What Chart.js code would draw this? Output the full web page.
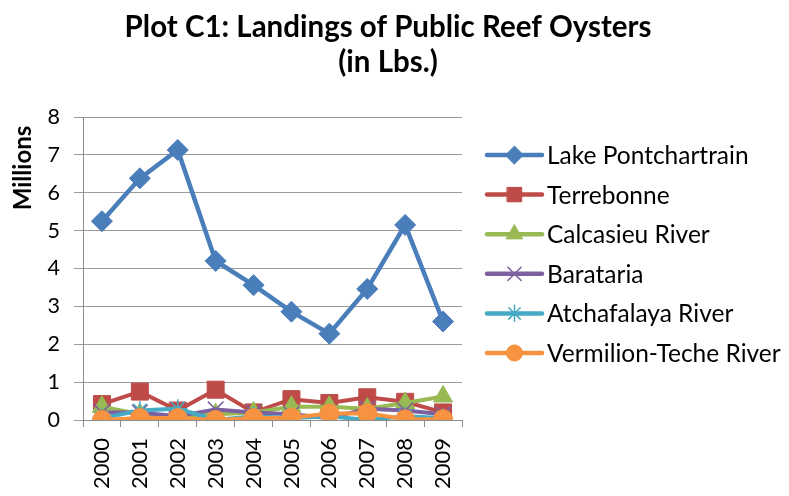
<!DOCTYPE html>
<html>
<head>
<meta charset="utf-8">
<script src="https://cdn.jsdelivr.net/npm/chart.js@4"></script>
<style>
  html, body { margin: 0; padding: 0; background: #fff; }
  #wrap { width: 789px; height: 496px; }
</style>
</head>
<body>
<div id="wrap"><canvas id="c" width="789" height="496"></canvas></div>
<script>
const years = ['2000','2001','2002','2003','2004','2005','2006','2007','2008','2009'];
const lakePontchartrain = [5.25, 6.38, 7.13, 4.2, 3.56, 2.86, 2.28, 3.46, 5.15, 2.6];
const terrebonne       = [0.42, 0.75, 0.25, 0.8, 0.2, 0.55, 0.45, 0.6, 0.48, 0.2];
const calcasieuRiver   = [0.35, 0.15, 0.1, 0.15, 0.2, 0.35, 0.35, 0.3, 0.45, 0.62];
const barataria        = [0.2, 0.2, 0.1, 0.28, 0.2, 0.15, 0.05, 0.3, 0.25, 0.15];
const atchafalayaRiver = [0.05, 0.25, 0.3, 0.0, 0.1, 0.05, 0.1, 0.0, 0.1, 0.05];
const vermilionTeche   = [0.0, 0.05, 0.05, 0.0, 0.05, 0.06, 0.17, 0.18, 0.02, 0.02];
const yTicks = [0,1,2,3,4,5,6,7,8];
const titleLines = ['Plot C1: Landings of Public Reef Oysters', '(in Lbs.)'];
const yAxisTitle = 'Millions';

const FONT = 'Lato';

function ds(label, data, color, style, radius, order, extra) {
  return Object.assign({
    label, data,
    borderColor: color,
    backgroundColor: color,
    pointBackgroundColor: color,
    pointBorderColor: color,
    pointStyle: style,
    pointRadius: radius,
    pointHoverRadius: radius,
    pointBorderWidth: 1,
    borderWidth: 4,
    tension: 0,
    order
  }, extra || {});
}

const datasets = [
  ds('Lake Pontchartrain', lakePontchartrain, '#4A7EBB', 'rectRot', 10.5, 5, {borderWidth: 4.5}),
  ds('Terrebonne', terrebonne, '#BE4B48', 'rect', 12, 4),
  ds('Calcasieu River', calcasieuRiver, '#98B954', 'triangle', 11, 3),
  ds('Barataria', barataria, '#7D60A0', 'crossRot', 11, 2, {pointBorderWidth: 1.5}),
  ds('Atchafalaya River', atchafalayaRiver, '#46AAC5', 'star', 9.5, 1, {pointBorderWidth: 1.5}),
  ds('Vermilion-Teche River', vermilionTeche, '#F69240', 'circle', 9.5, 0)
];

const decorations = {
  id: 'decorations',
  afterDraw(chart) {
    const ctx = chart.ctx;
    // title
    ctx.save();
    ctx.fillStyle = '#000';
    ctx.font = 'bold 29.5px ' + FONT;
    ctx.textAlign = 'center';
    ctx.textBaseline = 'middle';
    ctx.fillText(titleLines[0], 388, 27);
    ctx.fillText(titleLines[1], 388, 62);
    ctx.restore();
    // legend
    const x0 = 487, x1 = 542, tx = 547, y0 = 155, dy = 39.6;
    chart.data.datasets.forEach((d, i) => {
      const y = y0 + i * dy;
      ctx.save();
      ctx.strokeStyle = d.borderColor;
      ctx.lineWidth = 4.5;
      ctx.lineCap = 'round';
      ctx.beginPath(); ctx.moveTo(x0, y); ctx.lineTo(x1, y); ctx.stroke();
      ctx.fillStyle = d.pointBackgroundColor;
      ctx.strokeStyle = d.pointBorderColor;
      ctx.lineWidth = d.pointBorderWidth;
      Chart.helpers.drawPoint(ctx, {pointStyle: d.pointStyle, radius: d.pointRadius * 0.85, borderWidth: d.pointBorderWidth, rotation: 0}, (x0 + x1) / 2, y);
      ctx.fillStyle = '#000';
      ctx.font = '24.5px ' + FONT;
      ctx.textBaseline = 'middle';
      ctx.textAlign = 'left';
      ctx.fillText(d.label, tx, y + 1);
      ctx.restore();
    });
    // y axis title
    ctx.save();
    ctx.translate(23, 168);
    ctx.rotate(-Math.PI / 2);
    ctx.font = 'bold 24px ' + FONT;
    ctx.fillStyle = '#000';
    ctx.textAlign = 'center';
    ctx.textBaseline = 'middle';
    ctx.fillText(yAxisTitle, 0, 0);
    ctx.restore();
  }
};

new Chart(document.getElementById('c'), {
  type: 'line',
  data: { labels: years, datasets },
  options: {
    responsive: false,
    animation: false,
    layout: { padding: { left: 45, right: 327, top: 117, bottom: 0 } },
    plugins: {
      legend: { display: false },
      tooltip: { enabled: false },
      title: { display: false }
    },
    scales: {
      x: {
        offset: true,
        grid: { offset: true, drawOnChartArea: false, drawTicks: true, tickLength: 7, color: '#8c8c8c' },
        border: { display: true, color: '#8c8c8c', width: 1 },
        ticks: { minRotation: 90, maxRotation: 90, color: '#000', padding: 11, font: { family: FONT, size: 22 } },
        afterFit(scale) { scale.height = 76; }
      },
      y: {
        min: 0, max: 8,
        afterBuildTicks(scale) { scale.ticks = yTicks.map(v => ({ value: v })); },
        grid: { color: '#9a9a9a', drawTicks: true, tickLength: 9 },
        border: { display: true, color: '#8c8c8c', width: 1 },
        ticks: { color: '#000', padding: 14, font: { family: FONT, size: 21.5 } },
        afterFit(scale) { scale.width = 38; }
      }
    }
  },
  plugins: [decorations]
});
</script>
</body>
</html>
